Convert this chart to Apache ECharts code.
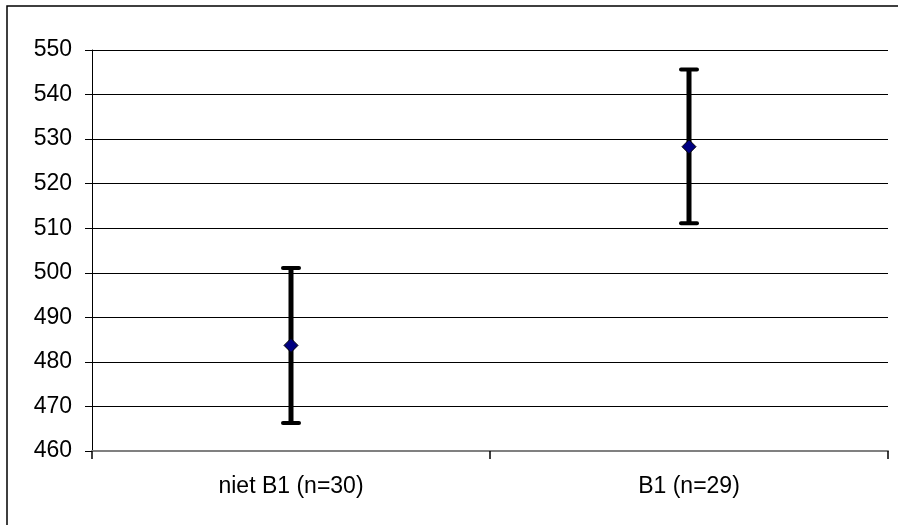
<!DOCTYPE html>
<html>
<head>
<meta charset="utf-8">
<script src="https://cdn.jsdelivr.net/npm/echarts@6/dist/echarts.min.js"></script>
<style>
html,body{margin:0;padding:0;background:#fff;}
#chart{width:898px;height:525px;}
</style>
</head>
<body>
<div id="chart"></div>
<script>
const categories = ['niet B1 (n=30)', 'B1 (n=29)'];
const means = [483.7, 528.3];
const lows = [466.3, 511.1];
const highs = [501.1, 545.6];
const yMin = 460, yMax = 550, yStep = 10;

const chart = echarts.init(document.getElementById('chart'));
const font = 'Liberation Sans, Arial, sans-serif';

chart.setOption({
  animation: false,
  backgroundColor: '#fff',
  graphic: [{
    type: 'rect',
    shape: {x: 7, y: 6, width: 1000, height: 1000},
    style: {fill: 'none', stroke: '#000', lineWidth: 1.5},
    z: -1
  }],
  grid: {left: 92, right: 10, top: 50, bottom: 74, containLabel: false},
  xAxis: {
    type: 'category',
    data: categories,
    boundaryGap: true,
    axisLine: {lineStyle: {color: '#808080', width: 2}},
    axisTick: {show: true, length: 8, lineStyle: {color: '#000', width: 1.5}},
    axisLabel: {color: '#000', fontSize: 23, fontFamily: font, margin: 24},
    splitLine: {show: false}
  },
  yAxis: {
    type: 'value',
    min: yMin, max: yMax, interval: yStep,
    axisLine: {show: true, lineStyle: {color: '#000', width: 1}},
    axisTick: {show: true, length: 7, lineStyle: {color: '#000', width: 1}},
    axisLabel: {color: '#000', fontSize: 23, fontFamily: font, margin: 20},
    splitLine: {show: true, lineStyle: {color: '#000', width: 1}}
  },
  series: [
    {
      type: 'custom',
      data: categories.map((c, i) => [i, lows[i], highs[i]]),
      renderItem: function (params, api) {
        const lo = api.coord([api.value(0), api.value(1)]);
        const hi = api.coord([api.value(0), api.value(2)]);
        const hw = 8;
        return {
          type: 'group',
          children: [
            {type: 'line', shape: {x1: lo[0], y1: lo[1], x2: hi[0], y2: hi[1]},
             style: {stroke: '#000', lineWidth: 5}},
            {type: 'line', shape: {x1: hi[0] - hw, y1: hi[1], x2: hi[0] + hw, y2: hi[1]},
             style: {stroke: '#000', lineWidth: 4, lineCap: 'round'}},
            {type: 'line', shape: {x1: lo[0] - hw, y1: lo[1], x2: lo[0] + hw, y2: lo[1]},
             style: {stroke: '#000', lineWidth: 4, lineCap: 'round'}}
          ]
        };
      },
      z: 2
    },
    {
      type: 'scatter',
      data: categories.map((c, i) => [i, means[i]]),
      symbol: 'diamond',
      symbolSize: 14,
      itemStyle: {color: '#000080', borderColor: '#000', borderWidth: 1, opacity: 1},
      z: 3
    }
  ]
});
</script>
</body>
</html>
